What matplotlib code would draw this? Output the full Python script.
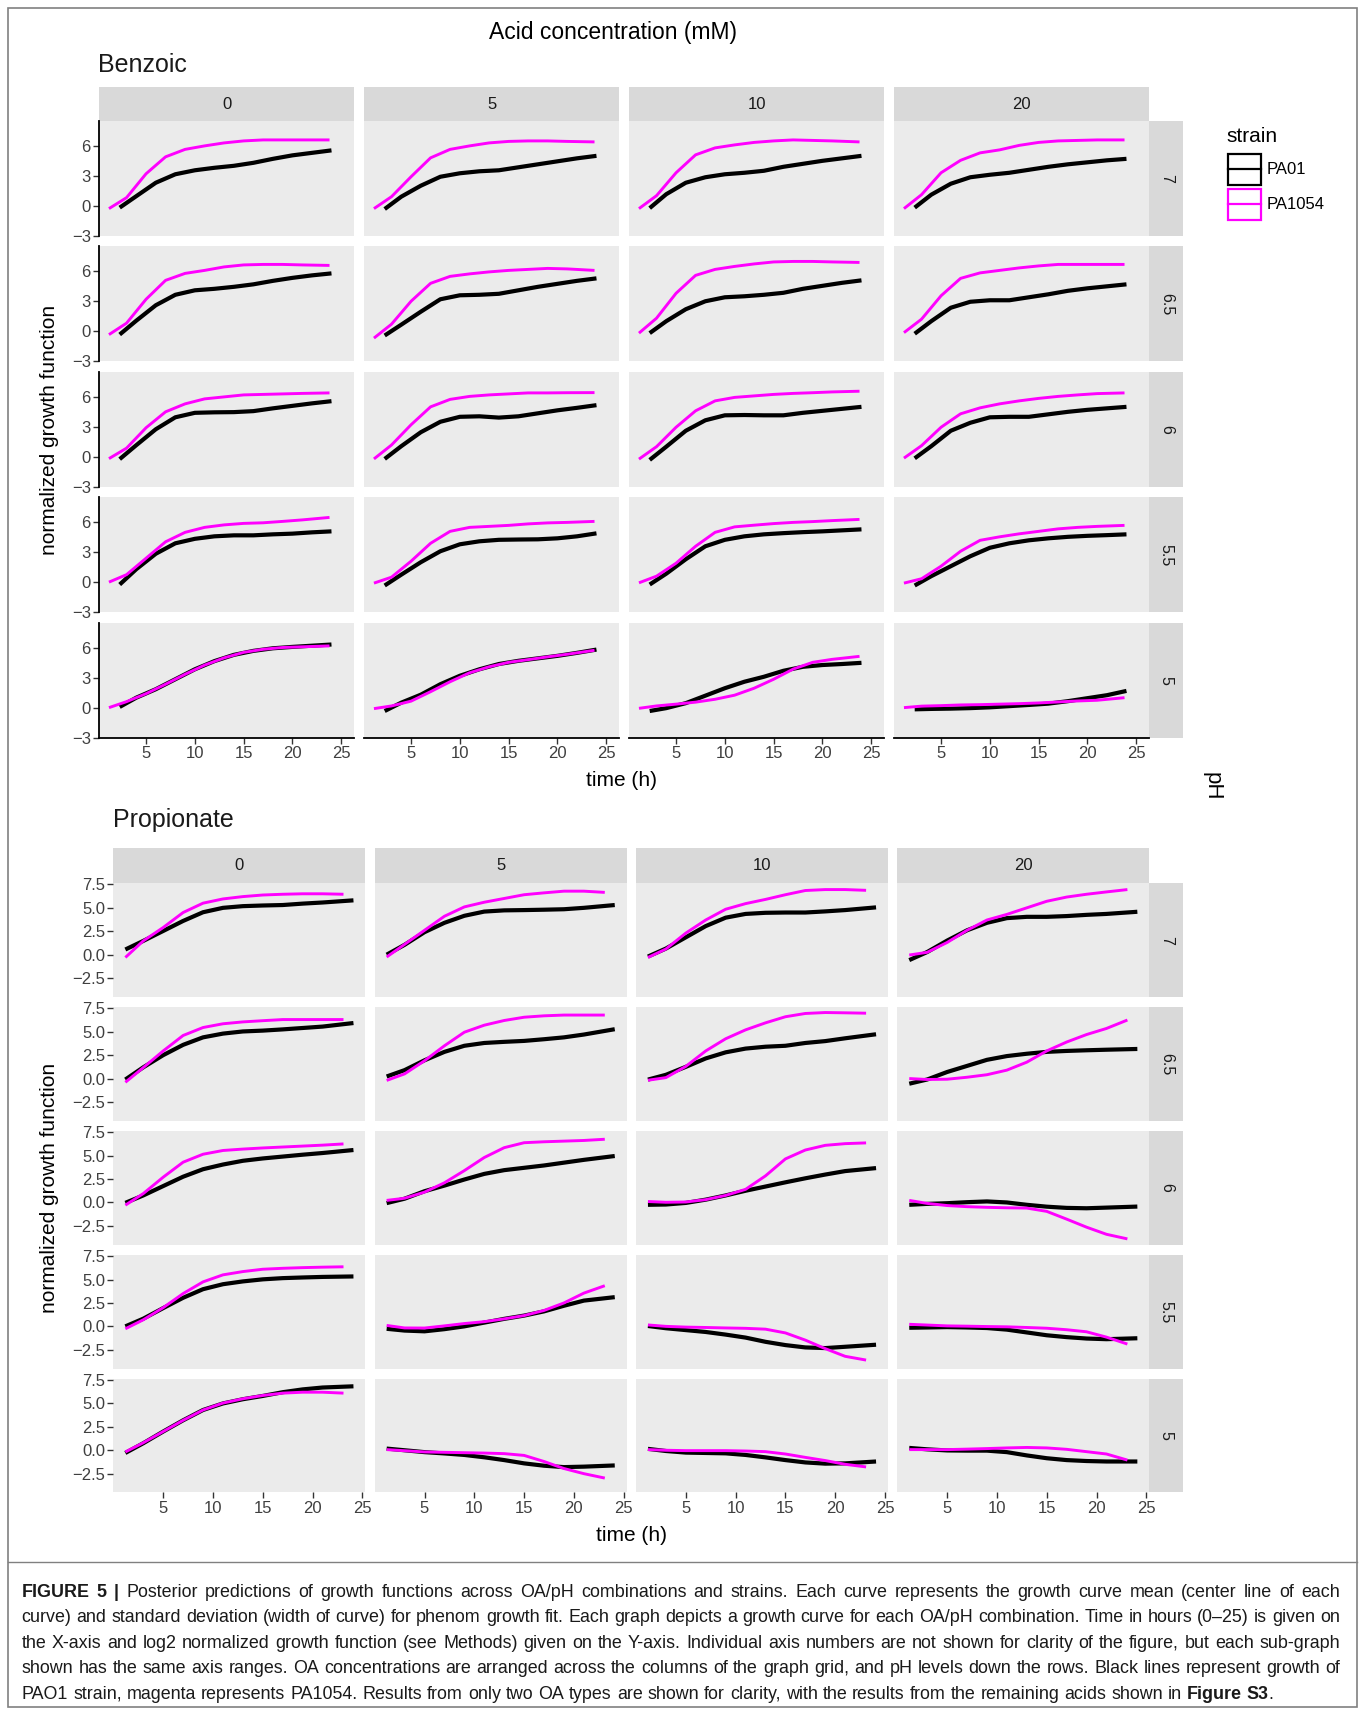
import matplotlib
matplotlib.use("Agg")
import matplotlib.pyplot as plt
from matplotlib.patches import Rectangle
from matplotlib.lines import Line2D
from matplotlib import font_manager

plt.rcParams['font.family'] = ['Liberation Sans', 'DejaVu Sans']

# ------------------------------------------------------------------ data
strains = ["PA01", "PA1054"]
strain_colors = ["#000000", "#FF00FF"]
concentrations = ["0", "5", "10", "20"]
ph_levels = ["7", "6.5", "6", "5.5", "5"]
time_ticks = [5, 10, 15, 20, 25]
benz_yticks = [-3, 0, 3, 6]
benz_yticklabels = ["\u22123", "0", "3", "6"]
prop_yticks = [-2.5, 0.0, 2.5, 5.0, 7.5]
prop_yticklabels = ["\u22122.5", "0.0", "2.5", "5.0", "7.5"]

# ---- Benzoic: time grids (h)
benz_time_PA01 = [2.3, 4, 6, 8, 10, 12, 14, 16, 18, 20, 22, 24]
benz_time_PA1054 = [1.2, 3, 5, 7, 9, 11, 13, 15, 17, 19, 21, 23.8]

# each row: one list per acid concentration 0, 5, 10, 20 mM
benz_PA01_ph7 = [
    [-0.2, 0.95, 2.3, 3.15, 3.55, 3.8, 4.0, 4.3, 4.7, 5.05, 5.3, 5.55],
    [-0.34, 0.9, 2.0, 2.9, 3.25, 3.45, 3.55, 3.85, 4.15, 4.45, 4.75, 5.0],
    [-0.25, 1.15, 2.3, 2.85, 3.15, 3.3, 3.5, 3.9, 4.2, 4.5, 4.75, 5.0],
    [-0.2, 1.1, 2.2, 2.85, 3.1, 3.3, 3.6, 3.9, 4.15, 4.35, 4.55, 4.7]]
benz_PA01_ph65 = [
    [-0.34, 1.05, 2.6, 3.65, 4.1, 4.25, 4.45, 4.7, 5.05, 5.35, 5.6, 5.8],
    [-0.44, 0.65, 1.95, 3.2, 3.6, 3.65, 3.75, 4.1, 4.45, 4.75, 5.05, 5.3],
    [-0.2, 1.0, 2.2, 3.0, 3.4, 3.5, 3.65, 3.85, 4.25, 4.55, 4.85, 5.1],
    [-0.26, 1.0, 2.35, 2.95, 3.1, 3.1, 3.4, 3.7, 4.05, 4.3, 4.5, 4.7]]
benz_PA01_ph6 = [
    [-0.25, 1.15, 2.75, 3.95, 4.4, 4.45, 4.47, 4.57, 4.85, 5.1, 5.35, 5.57],
    [-0.23, 1.05, 2.45, 3.5, 4.0, 4.05, 3.92, 4.05, 4.35, 4.65, 4.9, 5.17],
    [-0.33, 1.0, 2.6, 3.65, 4.15, 4.18, 4.15, 4.15, 4.4, 4.6, 4.8, 5.0],
    [-0.17, 1.05, 2.6, 3.4, 3.95, 4.0, 4.0, 4.25, 4.5, 4.7, 4.85, 5.0]]
benz_PA01_ph55 = [
    [-0.24, 1.3, 2.85, 3.9, 4.35, 4.6, 4.7, 4.7, 4.8, 4.87, 5.0, 5.1],
    [-0.34, 0.75, 2.0, 3.1, 3.8, 4.1, 4.25, 4.28, 4.3, 4.4, 4.6, 4.9],
    [-0.24, 0.85, 2.3, 3.6, 4.25, 4.6, 4.8, 4.92, 5.02, 5.1, 5.2, 5.3],
    [-0.34, 0.6, 1.6, 2.6, 3.45, 3.9, 4.2, 4.4, 4.55, 4.65, 4.72, 4.8]]
benz_PA01_ph5 = [
    [0.07, 1.0, 1.85, 2.85, 3.85, 4.67, 5.3, 5.7, 5.96, 6.1, 6.22, 6.34],
    [-0.34, 0.5, 1.3, 2.35, 3.2, 3.85, 4.38, 4.7, 4.95, 5.2, 5.5, 5.83],
    [-0.34, -0.05, 0.45, 1.2, 1.95, 2.6, 3.1, 3.7, 4.1, 4.28, 4.38, 4.5],
    [-0.17, -0.13, -0.1, -0.05, 0.03, 0.15, 0.27, 0.4, 0.65, 0.95, 1.25, 1.68]]

benz_PA1054_ph7 = [
    [-0.3, 0.8, 3.2, 4.9, 5.65, 6.0, 6.3, 6.5, 6.6, 6.6, 6.6, 6.6],
    [-0.3, 0.9, 2.9, 4.8, 5.65, 6.0, 6.3, 6.45, 6.5, 6.5, 6.45, 6.4],
    [-0.3, 1.0, 3.3, 5.1, 5.8, 6.1, 6.35, 6.5, 6.6, 6.55, 6.5, 6.4],
    [-0.3, 1.1, 3.3, 4.55, 5.3, 5.6, 6.05, 6.35, 6.5, 6.55, 6.6, 6.6]]
benz_PA1054_ph65 = [
    [-0.35, 0.8, 3.2, 5.1, 5.8, 6.1, 6.45, 6.65, 6.7, 6.7, 6.65, 6.6],
    [-0.7, 0.7, 3.0, 4.8, 5.5, 5.75, 5.95, 6.1, 6.2, 6.3, 6.25, 6.1],
    [-0.2, 1.3, 3.8, 5.6, 6.2, 6.5, 6.75, 6.95, 7.0, 7.0, 6.95, 6.9],
    [-0.15, 1.2, 3.55, 5.3, 5.85, 6.1, 6.35, 6.55, 6.7, 6.7, 6.7, 6.7]]
benz_PA1054_ph6 = [
    [-0.2, 0.85, 2.9, 4.5, 5.3, 5.8, 6.0, 6.2, 6.25, 6.3, 6.35, 6.4],
    [-0.23, 1.17, 3.2, 5.0, 5.75, 6.05, 6.2, 6.3, 6.4, 6.4, 6.42, 6.43],
    [-0.25, 1.0, 2.95, 4.6, 5.6, 5.95, 6.1, 6.25, 6.35, 6.42, 6.5, 6.57],
    [-0.15, 1.1, 2.95, 4.3, 4.9, 5.3, 5.6, 5.85, 6.05, 6.2, 6.33, 6.4]]
benz_PA1054_ph55 = [
    [0.0, 0.75, 2.4, 4.05, 5.0, 5.5, 5.75, 5.9, 5.96, 6.1, 6.25, 6.5],
    [-0.1, 0.5, 2.1, 3.9, 5.1, 5.5, 5.6, 5.7, 5.85, 5.95, 6.0, 6.1],
    [-0.07, 0.6, 1.9, 3.6, 5.0, 5.55, 5.72, 5.88, 6.0, 6.08, 6.18, 6.3],
    [-0.1, 0.34, 1.6, 3.1, 4.2, 4.55, 4.85, 5.1, 5.35, 5.5, 5.6, 5.7]]
benz_PA1054_ph5 = [
    [0.0, 0.6, 1.4, 2.35, 3.35, 4.27, 5.0, 5.55, 5.86, 6.04, 6.11, 6.2],
    [-0.1, 0.17, 0.65, 1.6, 2.6, 3.5, 4.1, 4.55, 4.82, 5.1, 5.36, 5.76],
    [-0.07, 0.17, 0.35, 0.55, 0.84, 1.25, 1.95, 2.85, 3.87, 4.55, 4.85, 5.15],
    [0.0, 0.15, 0.2, 0.27, 0.3, 0.35, 0.4, 0.47, 0.57, 0.67, 0.74, 1.0]]

# ---- Propionate: time grids (h)
prop_time_PA01 = [1.2, 3, 5, 7, 9, 11, 13, 15, 17, 19, 21, 24.1]
prop_time_PA1054 = [1.2, 3, 5, 7, 9, 11, 13, 15, 17, 19, 21, 23.1]

prop_PA01_ph7 = [
    [0.55, 1.47, 2.53, 3.6, 4.53, 5.0, 5.18, 5.25, 5.3, 5.45, 5.57, 5.8],
    [0.0, 1.05, 2.4, 3.4, 4.15, 4.6, 4.73, 4.76, 4.8, 4.85, 5.0, 5.3],
    [-0.2, 0.65, 1.85, 3.05, 3.95, 4.35, 4.47, 4.5, 4.5, 4.62, 4.76, 5.05],
    [-0.58, 0.28, 1.5, 2.6, 3.4, 3.9, 4.04, 4.04, 4.12, 4.25, 4.35, 4.58]]
prop_PA01_ph65 = [
    [-0.1, 1.2, 2.5, 3.6, 4.4, 4.8, 5.03, 5.12, 5.25, 5.4, 5.55, 5.93],
    [0.22, 0.9, 1.95, 2.85, 3.5, 3.8, 3.92, 4.02, 4.2, 4.4, 4.7, 5.27],
    [-0.11, 0.4, 1.25, 2.15, 2.8, 3.2, 3.4, 3.5, 3.8, 4.0, 4.3, 4.73],
    [-0.55, -0.1, 0.7, 1.35, 2.0, 2.4, 2.65, 2.85, 2.95, 3.02, 3.08, 3.16]]
prop_PA01_ph6 = [
    [-0.04, 0.75, 1.75, 2.75, 3.55, 4.05, 4.45, 4.7, 4.9, 5.1, 5.28, 5.6],
    [-0.07, 0.4, 1.2, 1.8, 2.45, 3.05, 3.45, 3.7, 3.95, 4.25, 4.55, 4.96],
    [-0.25, -0.22, -0.05, 0.3, 0.75, 1.25, 1.7, 2.15, 2.58, 2.98, 3.35, 3.67],
    [-0.25, -0.15, -0.08, 0.03, 0.11, 0.0, -0.25, -0.45, -0.58, -0.62, -0.55, -0.44]]
prop_PA01_ph55 = [
    [0.0, 0.82, 1.95, 3.05, 3.97, 4.5, 4.8, 5.02, 5.15, 5.22, 5.28, 5.33],
    [-0.26, -0.45, -0.53, -0.3, 0.0, 0.4, 0.8, 1.15, 1.6, 2.2, 2.75, 3.12],
    [0.04, -0.2, -0.4, -0.6, -0.88, -1.2, -1.65, -2.0, -2.25, -2.32, -2.18, -1.96],
    [-0.15, -0.12, -0.08, -0.12, -0.18, -0.35, -0.65, -0.95, -1.15, -1.3, -1.37, -1.27]]
prop_PA01_ph5 = [
    [-0.29, 0.75, 2.0, 3.2, 4.3, 5.0, 5.45, 5.8, 6.2, 6.5, 6.7, 6.83],
    [0.18, 0.0, -0.2, -0.34, -0.5, -0.75, -1.05, -1.4, -1.65, -1.8, -1.75, -1.62],
    [0.15, -0.08, -0.25, -0.29, -0.33, -0.5, -0.76, -1.05, -1.3, -1.43, -1.4, -1.2],
    [0.25, 0.1, -0.02, -0.04, -0.04, -0.2, -0.55, -0.85, -1.05, -1.15, -1.2, -1.2]]

prop_PA1054_ph7 = [
    [-0.3, 1.47, 2.9, 4.5, 5.5, 5.95, 6.2, 6.37, 6.45, 6.5, 6.5, 6.45],
    [-0.25, 1.1, 2.6, 4.1, 5.1, 5.6, 6.0, 6.4, 6.6, 6.78, 6.78, 6.65],
    [-0.3, 0.6, 2.3, 3.7, 4.85, 5.45, 5.9, 6.4, 6.85, 6.95, 6.95, 6.87],
    [-0.04, 0.25, 1.3, 2.6, 3.7, 4.3, 5.0, 5.7, 6.15, 6.45, 6.7, 6.95]]
prop_PA1054_ph65 = [
    [-0.4, 1.17, 2.95, 4.6, 5.45, 5.85, 6.05, 6.18, 6.3, 6.3, 6.3, 6.3],
    [-0.2, 0.5, 1.9, 3.5, 4.95, 5.7, 6.2, 6.55, 6.7, 6.78, 6.78, 6.78],
    [-0.18, 0.1, 1.3, 2.95, 4.25, 5.2, 5.95, 6.6, 6.95, 7.05, 7.02, 6.98],
    [0.0, -0.1, -0.07, 0.14, 0.41, 0.9, 1.75, 2.95, 3.9, 4.7, 5.35, 6.25]]
prop_PA1054_ph6 = [
    [-0.29, 0.95, 2.7, 4.3, 5.15, 5.55, 5.7, 5.82, 5.92, 6.02, 6.12, 6.25],
    [0.22, 0.45, 1.1, 2.1, 3.4, 4.8, 5.85, 6.38, 6.48, 6.55, 6.62, 6.75],
    [0.1, 0.02, 0.05, 0.3, 0.75, 1.4, 2.84, 4.65, 5.6, 6.1, 6.28, 6.36],
    [0.22, -0.1, -0.33, -0.45, -0.52, -0.57, -0.6, -0.95, -1.78, -2.64, -3.4, -3.89]]
prop_PA1054_ph55 = [
    [-0.26, 0.7, 2.0, 3.5, 4.75, 5.5, 5.85, 6.1, 6.2, 6.27, 6.32, 6.36],
    [0.1, -0.17, -0.18, 0.05, 0.3, 0.5, 0.8, 1.15, 1.7, 2.5, 3.55, 4.34],
    [0.15, 0.0, -0.08, -0.12, -0.17, -0.21, -0.3, -0.7, -1.47, -2.38, -3.2, -3.6],
    [0.22, 0.14, 0.05, 0.02, -0.02, -0.05, -0.12, -0.2, -0.36, -0.58, -1.15, -1.89]]
prop_PA1054_ph5 = [
    [-0.18, 0.8, 2.0, 3.2, 4.3, 5.04, 5.5, 5.85, 6.1, 6.2, 6.2, 6.1],
    [0.07, -0.05, -0.18, -0.22, -0.26, -0.3, -0.36, -0.55, -1.2, -1.95, -2.5, -2.97],
    [0.07, 0.0, -0.04, -0.04, -0.04, -0.08, -0.15, -0.4, -0.76, -1.1, -1.5, -1.78],
    [0.07, 0.07, 0.07, 0.12, 0.18, 0.25, 0.3, 0.25, 0.1, -0.15, -0.4, -1.05]]

caption_lines = [
    [("FIGURE 5 |", True), ("Posterior predictions of growth functions across OA/pH combinations and strains. Each curve represents the growth curve mean (center line of each", False)],
    [("curve) and standard deviation (width of curve) for phenom growth fit. Each graph depicts a growth curve for each OA/pH combination. Time in hours (0\u201325) is given on", False)],
    [("the X-axis and log2 normalized growth function (see Methods) given on the Y-axis. Individual axis numbers are not shown for clarity of the figure, but each sub-graph", False)],
    [("shown has the same axis ranges. OA concentrations are arranged across the columns of the graph grid, and pH levels down the rows. Black lines represent growth of", False)],
    [("PAO1 strain, magenta represents PA1054. Results from only two OA types are shown for clarity, with the results from the remaining acids shown in", False), ("Figure S3", True), (".", False, True)],
]

# ------------------------------------------------------------------ layout
W, H = 1362, 1710
fig = plt.figure(figsize=(W / 100, H / 100), dpi=100)
fig.patch.set_facecolor("white")

PANEL_BG = "#EBEBEB"
STRIP_BG = "#D9D9D9"
TICK_TXT = "#3F3F3F"
STRIP_TXT = "#1A1A1A"


def add_ax(left, top, width, height):
    return fig.add_axes([left / W, 1 - (top + height) / H, width / W, height / H])


def ftext(x, y, s, **kw):
    return fig.text(x / W, 1 - y / H, s, **kw)


sections = [
    dict(name="Benzoic",
         t0=benz_time_PA01, t1=benz_time_PA1054,
         y0=[benz_PA01_ph7, benz_PA01_ph65, benz_PA01_ph6, benz_PA01_ph55, benz_PA01_ph5],
         y1=[benz_PA1054_ph7, benz_PA1054_ph65, benz_PA1054_ph6, benz_PA1054_ph55, benz_PA1054_ph5],
         yticks=benz_yticks, ylabels=benz_yticklabels,
         xlim=(0.2, 26.35), ylim=(-3.05, 8.5),
         col_left=99.2, col_pitch=265.0, col_w=255.2,
         strip_top=87.2, strip_h=33.8,
         row_top=121.0, row_pitch=125.5, row_h=115.0,
         axis_lines=True,
         title_xy=(98, 65.5), xlab_xy=(622, 780), ylab_xy=(50, 430)),
    dict(name="Propionate",
         t0=prop_time_PA01, t1=prop_time_PA1054,
         y0=[prop_PA01_ph7, prop_PA01_ph65, prop_PA01_ph6, prop_PA01_ph55, prop_PA01_ph5],
         y1=[prop_PA1054_ph7, prop_PA1054_ph65, prop_PA1054_ph6, prop_PA1054_ph55, prop_PA1054_ph5],
         yticks=prop_yticks, ylabels=prop_yticklabels,
         xlim=(0.0, 25.3), ylim=(-4.5, 7.62),
         col_left=113.4, col_pitch=261.3, col_w=252.0,
         strip_top=848.4, strip_h=34.9,
         row_top=883.3, row_pitch=123.9, row_h=113.5,
         axis_lines=False,
         title_xy=(113, 820), xlab_xy=(631, 1535), ylab_xy=(50, 1188)),
]

RSTRIP_X, RSTRIP_W = 1149.4, 33.8

for sec in sections:
    for c, conc in enumerate(concentrations):
        left = sec["col_left"] + c * sec["col_pitch"]
        sax = add_ax(left, sec["strip_top"], sec["col_w"], sec["strip_h"])
        sax.set_facecolor(STRIP_BG)
        sax.set_xticks([]); sax.set_yticks([])
        for s in sax.spines.values():
            s.set_visible(False)
        sax.text(0.5, 0.5, conc, transform=sax.transAxes, ha="center", va="center",
                 fontsize=12, color=STRIP_TXT)

    for r, ph in enumerate(ph_levels):
        top = sec["row_top"] + r * sec["row_pitch"]
        rax = add_ax(RSTRIP_X, top, RSTRIP_W, sec["row_h"])
        rax.set_facecolor(STRIP_BG)
        rax.set_xticks([]); rax.set_yticks([])
        for s in rax.spines.values():
            s.set_visible(False)
        rax.text(0.5, 0.5, ph, transform=rax.transAxes, ha="center", va="center",
                 fontsize=11.5, color=STRIP_TXT, rotation=270)

        for c in range(len(concentrations)):
            left = sec["col_left"] + c * sec["col_pitch"]
            ax = add_ax(left, top, sec["col_w"], sec["row_h"])
            ax.set_facecolor(PANEL_BG)
            ax.plot(sec["t0"], sec["y0"][r][c], color=strain_colors[0], lw=3.0,
                    solid_capstyle="butt", solid_joinstyle="round", zorder=2)
            ax.plot(sec["t1"], sec["y1"][r][c], color=strain_colors[1], lw=2.1,
                    solid_capstyle="butt", solid_joinstyle="round", zorder=3)
            ax.set_xlim(*sec["xlim"])
            ax.set_ylim(*sec["ylim"])
            for s in ax.spines.values():
                s.set_visible(False)
            ax.tick_params(axis="both", length=4, width=1.0, color="#333333",
                           labelsize=12, labelcolor=TICK_TXT, pad=2)
            if c == 0:
                ax.set_yticks(sec["yticks"])
                ax.set_yticklabels(sec["ylabels"])
                if sec["axis_lines"]:
                    ax.spines["left"].set_visible(True)
                    ax.spines["left"].set_color("black")
                    ax.spines["left"].set_linewidth(1.3)
            else:
                ax.set_yticks([])
            if r == len(ph_levels) - 1:
                ax.set_xticks(time_ticks)
                ax.set_xticklabels([str(v) for v in time_ticks])
                if sec["axis_lines"]:
                    ax.spines["bottom"].set_visible(True)
                    ax.spines["bottom"].set_color("black")
                    ax.spines["bottom"].set_linewidth(1.3)
            else:
                ax.set_xticks([])

    ftext(*sec["title_xy"], sec["name"], fontsize=18, ha="left", va="center", color="#1A1A1A")
    ftext(*sec["xlab_xy"], "time (h)", fontsize=15, ha="center", va="center", color="black")
    ftext(*sec["ylab_xy"], "normalized growth function", fontsize=15, ha="center",
          va="center", rotation=90, color="black")

# overall titles
ftext(613, 32, "Acid concentration (mM)", fontsize=16.5, ha="center", va="center", color="black")
ftext(1212, 786, "pH", fontsize=16, ha="center", va="center", rotation=270, color="black")

# legend
ftext(1226, 137, "strain", fontsize=15, ha="left", va="center", color="black")
key_tops = [154.0, 189.0]
for i, name in enumerate(strains):
    x0, y0, kw, kh = 1227.5, key_tops[i], 33.0, 31.0
    fig.add_artist(Rectangle((x0 / W, 1 - (y0 + kh) / H), kw / W, kh / H,
                             transform=fig.transFigure, facecolor="white",
                             edgecolor=strain_colors[i], lw=1.6))
    fig.add_artist(Line2D([x0 / W, (x0 + kw) / W], [1 - (y0 + kh / 2) / H] * 2,
                          transform=fig.transFigure, color=strain_colors[i], lw=1.6))
    ftext(x0 + kw + 6, y0 + kh / 2, name, fontsize=12, ha="left", va="center", color="black")

# frame and caption separator
fig.add_artist(Rectangle((7.6 / W, 1 - 1706.5 / H), (1356.6 - 7.6) / W, (1706.5 - 7.6) / H,
                         transform=fig.transFigure, facecolor="none",
                         edgecolor="#808080", lw=1.2))
fig.add_artist(Line2D([7.6 / W, 1356.6 / W], [1 - 1561.6 / H] * 2,
                      transform=fig.transFigure, color="#808080", lw=1.0))

# ------------------------------------------------------------------ caption (justified)
installed = {f.name for f in font_manager.fontManager.ttflist}
cap_family = ["Liberation Sans Narrow", "Liberation Sans"] if "Liberation Sans Narrow" in installed \
    else ["Liberation Sans", "DejaVu Sans"]
renderer = fig.canvas.get_renderer()


def measure(s, bold, size):
    t = fig.text(0, 0, s, fontsize=size, fontweight="bold" if bold else "normal",
                 family=cap_family)
    w = t.get_window_extent(renderer).width
    t.remove()
    return w


def line_words(segments):
    words = []
    for seg in segments:
        text, bold = seg[0], seg[1]
        attach = len(seg) > 2 and seg[2]
        parts = text.split(" ")
        for k, p in enumerate(parts):
            if attach and k == 0 and words:
                words[-1].append((p, bold))
            else:
                words.append([(p, bold)])
    return words


CAP_LEFT, CAP_RIGHT = 21.7, 1340.0
cap_size = 13.5
space_w = measure("a a", False, cap_size) - measure("aa", False, cap_size)
widest = 0
for segs in caption_lines:
    ws = line_words(segs)
    tot = sum(measure(p, b, cap_size) for w in ws for (p, b) in w) + space_w * (len(ws) - 1)
    widest = max(widest, tot)
if widest > CAP_RIGHT - CAP_LEFT:
    cap_size = cap_size * (CAP_RIGHT - CAP_LEFT) / widest * 0.995
space_w = measure("a a", False, cap_size) - measure("aa", False, cap_size)

for li, segs in enumerate(caption_lines):
    ws = line_words(segs)
    widths = [[measure(p, b, cap_size) for (p, b) in w] for w in ws]
    total = sum(sum(w) for w in widths)
    if li < len(caption_lines) - 1 and len(ws) > 1:
        gap = (CAP_RIGHT - CAP_LEFT - total) / (len(ws) - 1)
    else:
        gap = space_w
    y = 1592 + li * 25.5
    x = CAP_LEFT
    for w, wd in zip(ws, widths):
        for (p, b), pw in zip(w, wd):
            ftext(x, y, p, fontsize=cap_size, fontweight="bold" if b else "normal",
                  family=cap_family, ha="left", va="center", color="#1A1A1A")
            x += pw
        x += gap

fig.savefig("out.png", dpi=100)
